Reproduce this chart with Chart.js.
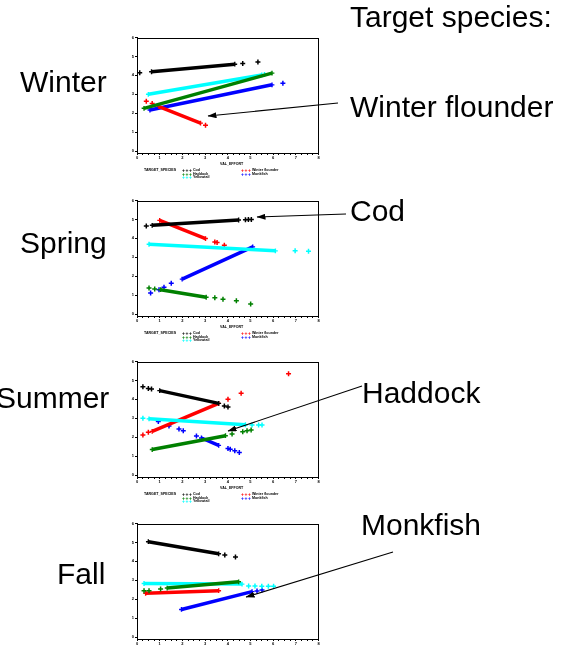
<!DOCTYPE html>
<html><head><meta charset="utf-8">
<script src="https://cdn.jsdelivr.net/npm/chart.js@4"></script>
<style>
html,body{margin:0;padding:0;background:#fff;width:571px;height:648px;overflow:hidden;position:relative;font-family:"Liberation Sans",Arial,sans-serif}
canvas{position:absolute}
.t{position:absolute;font-size:3.6px;font-weight:bold;white-space:nowrap;line-height:4px;color:#000}
.m{position:absolute;font-size:5px;font-weight:bold;white-space:nowrap;line-height:4px;letter-spacing:0.6px}
svg{position:absolute;left:0;top:0;z-index:5}
</style></head><body>
<div id="wrap"></div>
<svg width="571" height="648">
<defs><marker id="ah" markerWidth="9" markerHeight="6" refX="8.5" refY="3" orient="auto" markerUnits="userSpaceOnUse"><path d="M0,0 L9,3 L0,6 z" fill="#000"/></marker></defs>
<g font-family="Liberation Sans, Arial, sans-serif" font-size="30" fill="#000">
<text x="350" y="27">Target species:</text>
<text x="20" y="92">Winter</text>
<text x="350" y="117">Winter flounder</text>
<text x="20" y="253">Spring</text>
<text x="350" y="221">Cod</text>
<text x="-4" y="408">Summer</text>
<text x="362" y="403">Haddock</text>
<text x="57" y="584">Fall</text>
<text x="361" y="535">Monkfish</text>
</g>
<g stroke="#000" stroke-width="1.1">
<line x1="338" y1="103" x2="208" y2="116" marker-end="url(#ah)"/>
<line x1="346" y1="214" x2="257" y2="217" marker-end="url(#ah)"/>
<line x1="362" y1="386" x2="228" y2="431" marker-end="url(#ah)"/>
<line x1="393" y1="552" x2="246" y2="597" marker-end="url(#ah)"/>
</g>
</svg>
<script>
// ---- data (x: 0-8 axis units, y: 0-6 axis units) ----
const xTickValues = [0,1,2,3,4,5,6,7,8];
const yTickLabels = ['0','1','2','3','4','5','6'];
const speciesLabels = ['Cod','Haddock','Yellowtail','Winter flounder','Monkfish'];
const xAxisTitle = 'VAL_EFFORT';
const legendTitle = 'TARGET_SPECIES';

// Winter
const winterBlackBand = [[0.64,4.19],[4.31,4.59]];
const winterBlackPts  = [[0.12,4.14],[4.66,4.63],[5.33,4.70]];
const winterGreenBand = [[0.31,2.26],[5.95,4.12]];
const winterGreenPts  = [];
const winterCyanBand  = [[0.5,3.0],[5.5,4.02]];
const winterCyanPts   = [[5.62,4.05]];
const winterRedBand   = [[0.97,2.35],[2.8,1.48]];
const winterRedPts    = [[0.41,2.63],[0.67,2.52],[3.02,1.37]];
const winterBlueBand  = [[0.57,2.17],[5.95,3.50]];
const winterBluePts   = [[6.43,3.58]];

// Spring
const springBlackBand = [[0.67,4.69],[4.48,4.97]];
const springBlackPts  = [[0.41,4.65],[4.78,4.98],[4.91,4.99],[5.04,5.0]];
const springGreenBand = [[1.04,1.29],[3.05,0.89]];
const springGreenPts  = [[0.53,1.38],[0.78,1.33],[3.43,0.86],[3.79,0.79],[4.38,0.70],[5.01,0.54]];
const springCyanBand  = [[0.53,3.69],[6.1,3.34]];
const springCyanPts   = [[6.97,3.34],[7.56,3.32]];
const springRedBand   = [[1.0,4.95],[3.02,3.99]];
const springRedPts    = [[3.43,3.81],[3.53,3.78],[3.85,3.64]];
const springBlueBand  = [[1.99,1.85],[5.1,3.55]];
const springBluePts   = [[0.6,1.12],[0.97,1.29],[1.19,1.42],[1.51,1.63]];

// Summer
const summerBlackBand = [[1.0,4.46],[3.6,3.79]];
const summerBlackPts  = [[0.26,4.67],[0.5,4.58],[0.64,4.55],[3.85,3.65],[4.01,3.6]];
const summerGreenBand = [[0.67,1.35],[3.9,2.08]];
const summerGreenPts  = [[4.19,2.17],[4.66,2.29],[4.85,2.34],[5.03,2.38]];
const summerCyanBand  = [[0.53,2.97],[4.78,2.66]];
const summerCyanPts   = [[0.26,3.0],[5.07,2.64],[5.36,2.64],[5.51,2.64]];
const summerRedBand   = [[0.67,2.31],[3.6,3.79]];
const summerRedPts    = [[0.26,2.12],[0.5,2.26],[4.01,4.0],[4.59,4.32],[6.68,5.35]];
const summerBlueBand  = [[2.84,1.96],[3.6,1.57]];
const summerBluePts   = [[0.94,2.83],[1.41,2.6],[1.85,2.43],[2.04,2.34],[2.62,2.06],[4.01,1.4],[4.11,1.36],[4.31,1.28],[4.51,1.19]];

// Fall
const fallBlackBand = [[0.5,5.04],[3.6,4.4]];
const fallBlackPts  = [[3.87,4.33],[4.34,4.23]];
const fallGreenBand = [[1.33,2.59],[4.48,2.92]];
const fallGreenPts  = [[0.31,2.45],[0.53,2.45],[1.04,2.54]];
const fallCyanBand  = [[0.31,2.83],[4.63,2.8]];
const fallCyanPts   = [[4.92,2.7],[5.2,2.7],[5.5,2.69],[5.79,2.69],[6.02,2.69]];
const fallRedBand   = [[0.38,2.31],[3.6,2.45]];
const fallRedPts    = [];
const fallBlueBand  = [[1.96,1.46],[5.07,2.4]];
const fallBluePts   = [[5.29,2.43],[5.51,2.49]];

// ---- layout / style ----
const colors = ['#000000','#008000','#00ffff','#ff0000','#0000ff'];
const panels = [
  {top:36,  bands:[winterBlackBand,winterGreenBand,winterCyanBand,winterRedBand,winterBlueBand], pts:[winterBlackPts,winterGreenPts,winterCyanPts,winterRedPts,winterBluePts]},
  {top:199, bands:[springBlackBand,springGreenBand,springCyanBand,springRedBand,springBlueBand], pts:[springBlackPts,springGreenPts,springCyanPts,springRedPts,springBluePts]},
  {top:360, bands:[summerBlackBand,summerGreenBand,summerCyanBand,summerRedBand,summerBlueBand], pts:[summerBlackPts,summerGreenPts,summerCyanPts,summerRedPts,summerBluePts]},
  {top:522, bands:[fallBlackBand,fallGreenBand,fallCyanBand,fallRedBand,fallBlueBand], pts:[fallBlackPts,fallGreenPts,fallCyanPts,fallRedPts,fallBluePts]}
];
const CW = 224, LEFT = 100, PADTOP = 4, PLOTH = 117, XH = 10;

const boxPlugin = {id:'box', afterDraw(c){const a=c.chartArea,ctx=c.ctx;ctx.save();ctx.strokeStyle='#000';ctx.lineWidth=1;ctx.strokeRect(Math.round(a.left)+0.5,Math.round(a.top)+0.5,Math.round(a.right-a.left)-1,Math.round(a.bottom-a.top)-1);ctx.restore();}};

const wrap = document.getElementById('wrap');
function addDiv(cls, txt, left, top, color){const d=document.createElement('div');d.className=cls;d.textContent=txt;d.style.left=left+'px';d.style.top=top+'px';if(color)d.style.color=color;wrap.appendChild(d);}

panels.forEach(p=>{
  const cv = document.createElement('canvas');
  const H = PADTOP+PLOTH+XH;
  cv.width=CW; cv.height=H; cv.style.left=LEFT+'px'; cv.style.top=(p.top-PADTOP)+'px';
  cv.style.width=CW+'px'; cv.style.height=H+'px';
  wrap.appendChild(cv);
  const datasets=[];
  for(let i=0;i<5;i++){
    datasets.push({data:p.bands[i].map(([x,y])=>({x,y})),showLine:true,borderColor:colors[i],backgroundColor:colors[i],borderWidth:3.5,pointStyle:'cross',pointRadius:2.4,pointBorderWidth:1.4,pointBorderColor:colors[i]});
    datasets.push({data:p.pts[i].map(([x,y])=>({x,y})),showLine:false,borderColor:colors[i],backgroundColor:colors[i],pointStyle:'cross',pointRadius:2.5,pointBorderWidth:1.5,pointBorderColor:colors[i]});
  }
  new Chart(cv,{type:'scatter',data:{datasets},plugins:[boxPlugin],options:{
    responsive:false,animation:false,devicePixelRatio:1,
    layout:{padding:{top:PADTOP,right:3,left:0,bottom:0}},
    plugins:{legend:{display:false},tooltip:{enabled:false}},
    scales:{
      x:{type:'linear',min:xTickValues[0],max:xTickValues[xTickValues.length-1],afterFit(s){s.height=XH;s.paddingLeft=0;s.paddingRight=0;},
        ticks:{stepSize:0.25,autoSkip:false,maxRotation:0,includeBounds:false,padding:0,font:{size:4,weight:'bold'},color:'#000',
          callback:v=>xTickValues.includes(v)?String(v):''},
        grid:{drawOnChartArea:false,drawTicks:true,tickLength:2,color:'#000'},border:{color:'#000',width:1}},
      y:{type:'linear',min:-0.1,max:6,afterFit(s){s.width=37;s.paddingTop=0;s.paddingBottom=0;},
        ticks:{stepSize:1,includeBounds:false,padding:1,font:{size:4,weight:'bold'},color:'#000',callback:v=>yTickLabels[Math.round(v)]},
        grid:{drawOnChartArea:false,drawTicks:true,tickLength:2,color:'#000'},border:{color:'#000',width:1}}
    }}});
  const B = p.top+PLOTH;
  addDiv('t', xAxisTitle, 220, B+9);
  addDiv('t', legendTitle, 144, B+15);
  const rows=[[182,B+15],[182,B+19],[182,B+22],[241,B+15],[241,B+19]];
  rows.forEach(([l,t],i)=>{addDiv('m','+++',l,t-0.5,colors[i]);addDiv('t',speciesLabels[i],l+11,t);});
});
</script>
</body></html>
